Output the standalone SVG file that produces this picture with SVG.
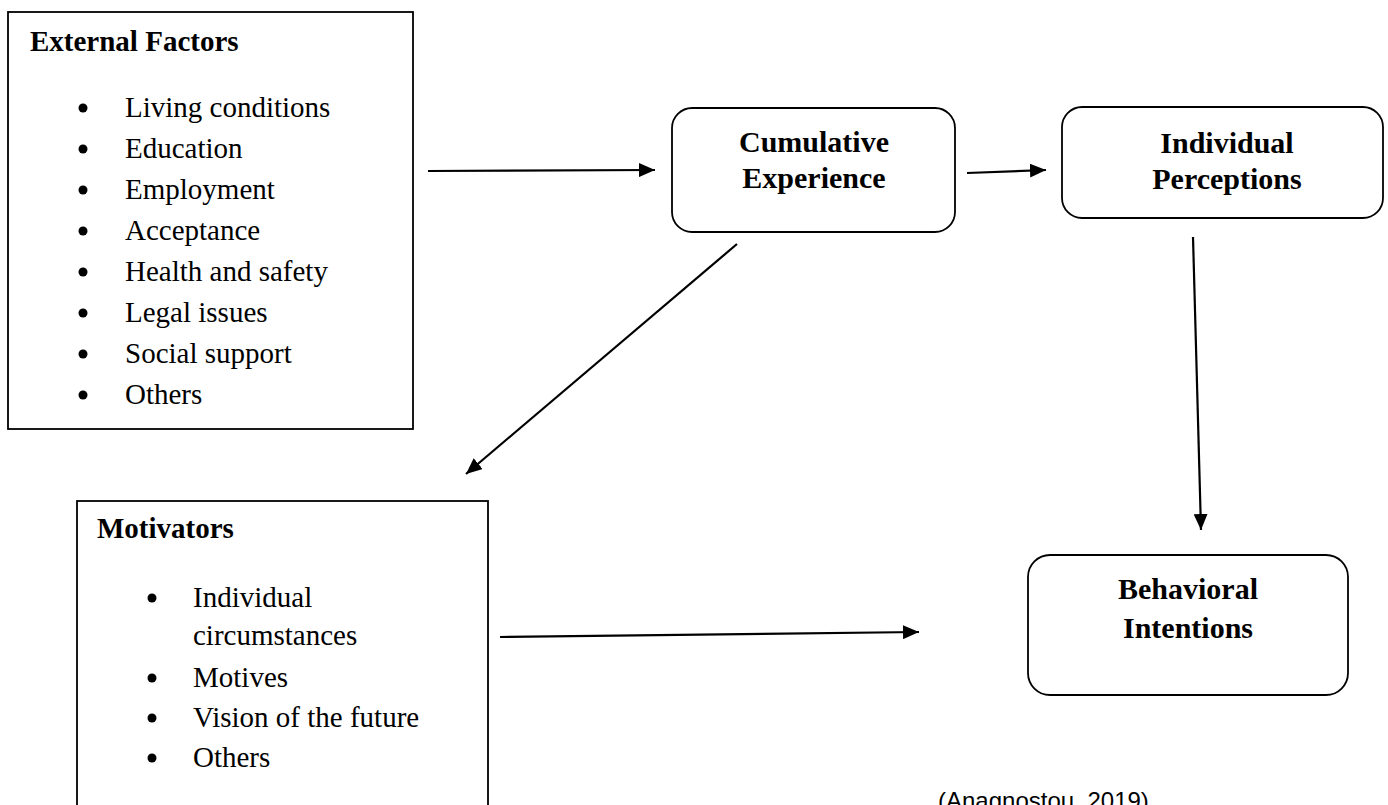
<svg xmlns="http://www.w3.org/2000/svg" width="1388" height="805" viewBox="0 0 1388 805">
<style>
.box{fill:#fff;stroke:#000;stroke-width:1.8}
.t{font-family:"Liberation Serif","Times New Roman",serif;font-size:29px;fill:#000}
.b{font-weight:bold}
.lbl{font-family:"Liberation Serif","Times New Roman",serif;font-size:30px;font-weight:bold;fill:#000;text-anchor:middle}
.c{stroke:#000;stroke-width:2.2;fill:none;marker-end:url(#ah)}
.cite{font-family:"Liberation Sans",Arial,sans-serif;font-size:24px;fill:#000}
</style>
<defs>
<marker id="ah" viewBox="0 0 16 14" refX="16" refY="7" markerWidth="16" markerHeight="14" markerUnits="userSpaceOnUse" orient="auto">
<path d="M0,0 L16,7 L0,14 Z" fill="#000"/>
</marker>
</defs>
<rect width="1388" height="805" fill="#fff"/>
<g id="external-factors">
<rect class="box" x="8" y="12" width="405" height="417"/>
<text class="t b" x="30" y="51">External Factors</text>
<g fill="#000">
<circle cx="83" cy="108" r="4.5"/><circle cx="83" cy="149" r="4.5"/><circle cx="83" cy="190" r="4.5"/><circle cx="83" cy="231" r="4.5"/>
<circle cx="83" cy="272" r="4.5"/><circle cx="83" cy="313" r="4.5"/><circle cx="83" cy="354" r="4.5"/><circle cx="83" cy="395" r="4.5"/>
</g>
<text class="t" x="125" y="117">Living conditions</text>
<text class="t" x="125" y="158">Education</text>
<text class="t" x="125" y="199">Employment</text>
<text class="t" x="125" y="240">Acceptance</text>
<text class="t" x="125" y="281">Health and safety</text>
<text class="t" x="125" y="322">Legal issues</text>
<text class="t" x="125" y="363">Social support</text>
<text class="t" x="125" y="404">Others</text>
</g>
<g id="cumulative-experience">
<rect class="box" x="672" y="108" width="283" height="124" rx="20"/>
<text class="lbl" x="814" y="152">Cumulative</text>
<text class="lbl" x="814" y="188">Experience</text>
</g>
<g id="individual-perceptions">
<rect class="box" x="1062" y="107" width="321" height="111" rx="20"/>
<text class="lbl" x="1227" y="153">Individual</text>
<text class="lbl" x="1227" y="189">Perceptions</text>
</g>
<g id="behavioral-intentions">
<rect class="box" x="1028" y="555" width="320" height="140" rx="22"/>
<text class="lbl" x="1188" y="599">Behavioral</text>
<text class="lbl" x="1188" y="638">Intentions</text>
</g>
<g id="motivators">
<rect class="box" x="77" y="501" width="411" height="320"/>
<text class="t b" x="97" y="538">Motivators</text>
<g fill="#000">
<circle cx="152" cy="598" r="4.5"/><circle cx="152" cy="678" r="4.5"/><circle cx="152" cy="718" r="4.5"/><circle cx="152" cy="758" r="4.5"/>
</g>
<text class="t" x="193" y="607">Individual</text>
<text class="t" x="193" y="645">circumstances</text>
<text class="t" x="193" y="687">Motives</text>
<text class="t" x="193" y="727">Vision of the future</text>
<text class="t" x="193" y="767">Others</text>
</g>
<g id="connectors">
<line class="c" x1="428" y1="171" x2="655" y2="170"/>
<line class="c" x1="967" y1="173" x2="1046" y2="170"/>
<line class="c" x1="1193" y1="237" x2="1201" y2="530"/>
<line class="c" x1="737" y1="244" x2="466" y2="474"/>
<line class="c" x1="500" y1="637" x2="919" y2="632"/>
</g>
<text id="citation" class="cite" x="938" y="809">(Anagnostou, 2019)</text>
</svg>
